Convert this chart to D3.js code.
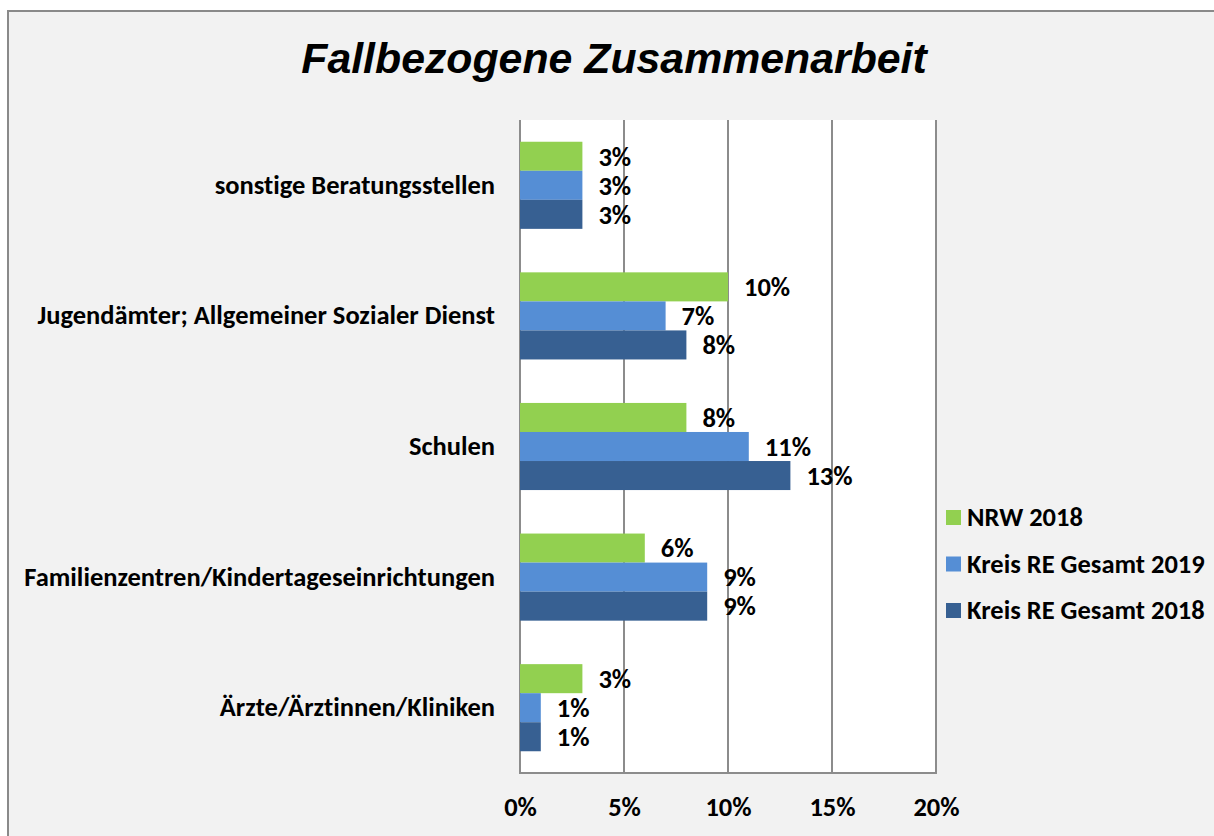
<!DOCTYPE html>
<html>
<head>
<meta charset="utf-8">
<script src="https://cdn.jsdelivr.net/npm/d3@7"></script>
<style>
  body { margin: 0; background: #fff; }
  svg text { font-family: Carlito, Lato, sans-serif; font-weight: bold; fill: #000; font-variant-ligatures: none; }
</style>
</head>
<body>
<div id="chart"></div>
<script>

// categories, top to bottom
const categories = [
	"sonstige Beratungsstellen",
	"Jugendämter; Allgemeiner Sozialer Dienst",
	"Schulen",
	"Familienzentren/Kindertageseinrichtungen",
	"Ärzte/Ärztinnen/Kliniken"
];

// series (order inside each group: top to bottom)
const seriesNames = ["NRW 2018", "Kreis RE Gesamt 2019", "Kreis RE Gesamt 2018"];
const seriesColors = ["#92d050", "#558ed5", "#376092"];

const nrw2018 = [3, 10, 8, 6, 3];
const kreis2019 = [3, 7, 11, 9, 1];
const kreis2018 = [3, 8, 13, 9, 1];

const xTicks = [0, 5, 10, 15, 20];

let seriesValues = [nrw2018, kreis2019, kreis2018];

let width = 1214, height = 836;
let plot = {left: 520, right: 936, top: 120, bottom: 773};
let fontSize = "26.5px";

let svg = d3.select("#chart").append("svg")
	.attr("width", width)
	.attr("height", height);

// outer chart area
svg.append("rect")
	.attr("x", 8).attr("y", 11)
	.attr("width", width + 20).attr("height", height + 20)
	.attr("fill", "#f2f2f2")
	.attr("stroke", "#8a8a8a")
	.attr("stroke-width", 2);

// title
svg.append("text")
	.attr("x", 614)
	.attr("y", 73)
	.attr("text-anchor", "middle")
	.style("font-family", "'Liberation Sans', Arial, sans-serif")
	.style("font-style", "italic")
	.style("font-size", "42.8px")
	.text("Fallbezogene Zusammenarbeit");

// plot background
svg.append("rect")
	.attr("x", plot.left).attr("y", plot.top)
	.attr("width", plot.right - plot.left).attr("height", plot.bottom - plot.top)
	.attr("fill", "#fff");

let x = d3.scaleLinear()
	.domain([0, 20])
	.range([plot.left, plot.right]);

let y = d3.scaleBand()
	.domain(categories)
	.range([plot.top, plot.bottom])
	.paddingInner(0.333)
	.paddingOuter(0.1665);

let ySub = d3.scaleBand()
	.domain(seriesNames)
	.range([0, y.bandwidth()]);

// gridlines
svg.append("g")
	.selectAll("line")
	.data(xTicks)
	.enter().append("line")
	.attr("x1", d => x(d)).attr("x2", d => x(d))
	.attr("y1", plot.top).attr("y2", plot.bottom)
	.attr("stroke", "#8c8c8c")
	.attr("stroke-width", 2);

// bottom axis line
svg.append("line")
	.attr("x1", plot.left - 1).attr("x2", plot.right + 1)
	.attr("y1", plot.bottom).attr("y2", plot.bottom)
	.attr("stroke", "#8c8c8c")
	.attr("stroke-width", 2);

// x tick labels
let xAxis = d3.axisBottom(x)
	.tickValues(xTicks)
	.tickSize(0)
	.tickPadding(0)
	.tickFormat(d => d + "%");

let gx = svg.append("g")
	.attr("transform", `translate(0, ${plot.bottom + 24})`)
	.call(xAxis);
gx.select(".domain").remove();
gx.selectAll("text")
	.attr("dy", "0.71em")
	.style("font-size", fontSize)
	.style("font-family", "Carlito, Lato, sans-serif");

// category labels
let yAxis = d3.axisLeft(y).tickSize(0).tickPadding(0);
let gy = svg.append("g")
	.attr("transform", `translate(${plot.left - 25}, 0)`)
	.call(yAxis);
gy.select(".domain").remove();
gy.selectAll("text")
	.style("font-size", fontSize)
	.style("font-family", "Carlito, Lato, sans-serif");

// bars
let rows = [];
categories.forEach((c, i) => {
	seriesNames.forEach((s, j) => {
		rows.push({category: c, series: s, value: seriesValues[j][i], color: seriesColors[j]});
	});
});

svg.append("g")
	.selectAll("rect")
	.data(rows)
	.enter().append("rect")
	.attr("x", x(0))
	.attr("y", d => y(d.category) + ySub(d.series))
	.attr("width", d => x(d.value) - x(0))
	.attr("height", ySub.bandwidth())
	.attr("fill", d => d.color);

// value labels
svg.append("g")
	.selectAll("text")
	.data(rows)
	.enter().append("text")
	.attr("x", d => x(d.value) + 16)
	.attr("y", d => y(d.category) + ySub(d.series) + ySub.bandwidth() / 2)
	.attr("dy", "0.35em")
	.style("font-size", fontSize)
	.text(d => d.value + "%");

// legend
let legend = svg.append("g")
	.attr("transform", "translate(946, 517)");

let items = legend.selectAll("g")
	.data(seriesNames)
	.enter().append("g")
	.attr("transform", (d, i) => `translate(0, ${i * 46.5})`);

items.append("rect")
	.attr("x", 0).attr("y", -7)
	.attr("width", 15).attr("height", 15)
	.attr("fill", (d, i) => seriesColors[i]);

items.append("text")
	.attr("x", 21)
	.attr("y", 0)
	.attr("dy", "0.35em")
	.style("font-size", fontSize)
	.text(d => d);

</script>
</body>
</html>
